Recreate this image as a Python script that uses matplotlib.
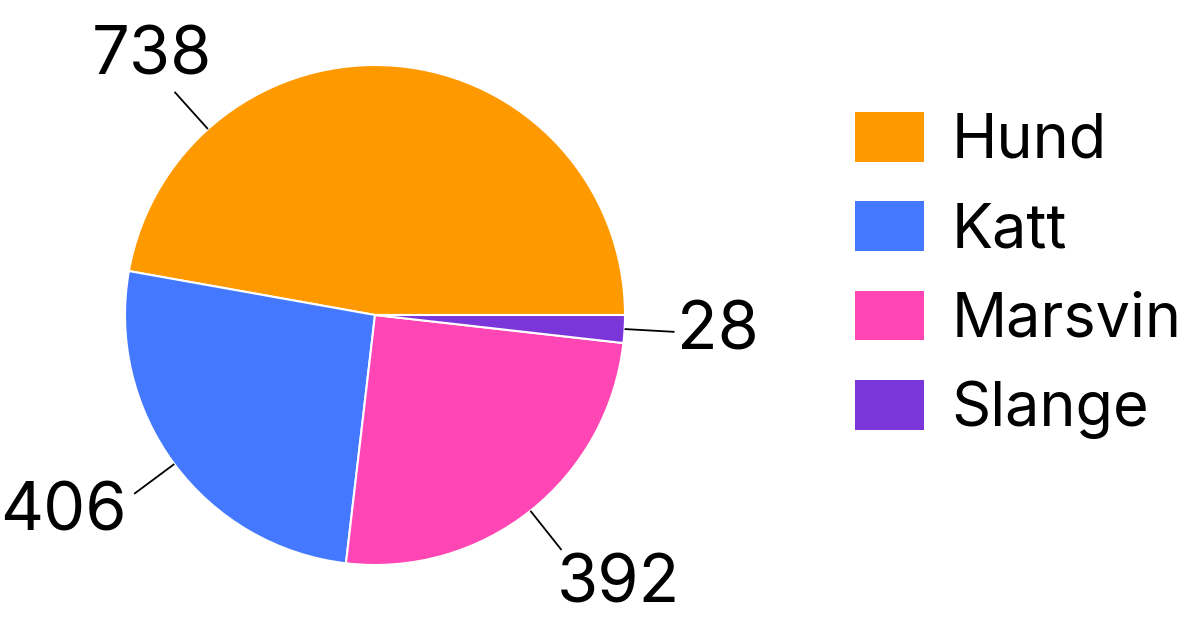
import matplotlib.pyplot as plt
import numpy as np

plt.rcParams['font.family'] = ['Inter', 'DejaVu Sans']

# data
animals = ['Hund', 'Katt', 'Marsvin', 'Slange']
counts = [738, 406, 392, 28]
colors = ['#ff9900', '#4479ff', '#ff46b4', '#7b36d9']

# label placement tweaks (degrees added to the mid angle, text nudges)
label_shift = [47, 0, 0, 0]
label_ha = ['center', 'right', 'left', 'left']
label_va = ['bottom', 'center', 'top', 'center']
label_dx = [-19, -3, -8, -3]
label_dy = [0, -16, 0, 0]

fig = plt.figure(figsize=(12, 6.3), dpi=100)
ax = fig.add_axes([0, 0, 1, 1])

cx, cy, R = 375, 315, 250
wedges, _ = ax.pie(counts, colors=colors, center=(cx, cy), radius=R,
                   startangle=0, counterclock=True, frame=True,
                   wedgeprops=dict(edgecolor='white', linewidth=1.5))
ax.set_xlim(0, 1200)
ax.set_ylim(0, 630)
ax.set_aspect('equal')
ax.axis('off')

total = float(sum(counts))
start = 0.0
for i, v in enumerate(counts):
    span = 360.0 * v / total
    a = np.deg2rad(start + span / 2 + label_shift[i])
    start += span
    ca, sa = np.cos(a), np.sin(a)
    ax.plot([cx + R * ca, cx + (R + 50) * ca], [cy + R * sa, cy + (R + 50) * sa],
            color='black', lw=1.3, solid_capstyle='butt')
    ax.text(cx + (R + 55) * ca + label_dx[i], cy + (R + 55) * sa + label_dy[i],
            str(v), fontsize=48, ha=label_ha[i], va=label_va[i], color='black')

leg = ax.legend(wedges, animals, loc='upper left',
                bbox_to_anchor=(855, 518), bbox_transform=ax.transData,
                frameon=False, fontsize=44, borderpad=0, borderaxespad=0,
                handlelength=1.13, handleheight=0.87, handletextpad=0.45,
                labelspacing=0.5)
for h in leg.legend_handles:
    h.set_edgecolor('none')

fig.savefig('out.png', dpi=100)
